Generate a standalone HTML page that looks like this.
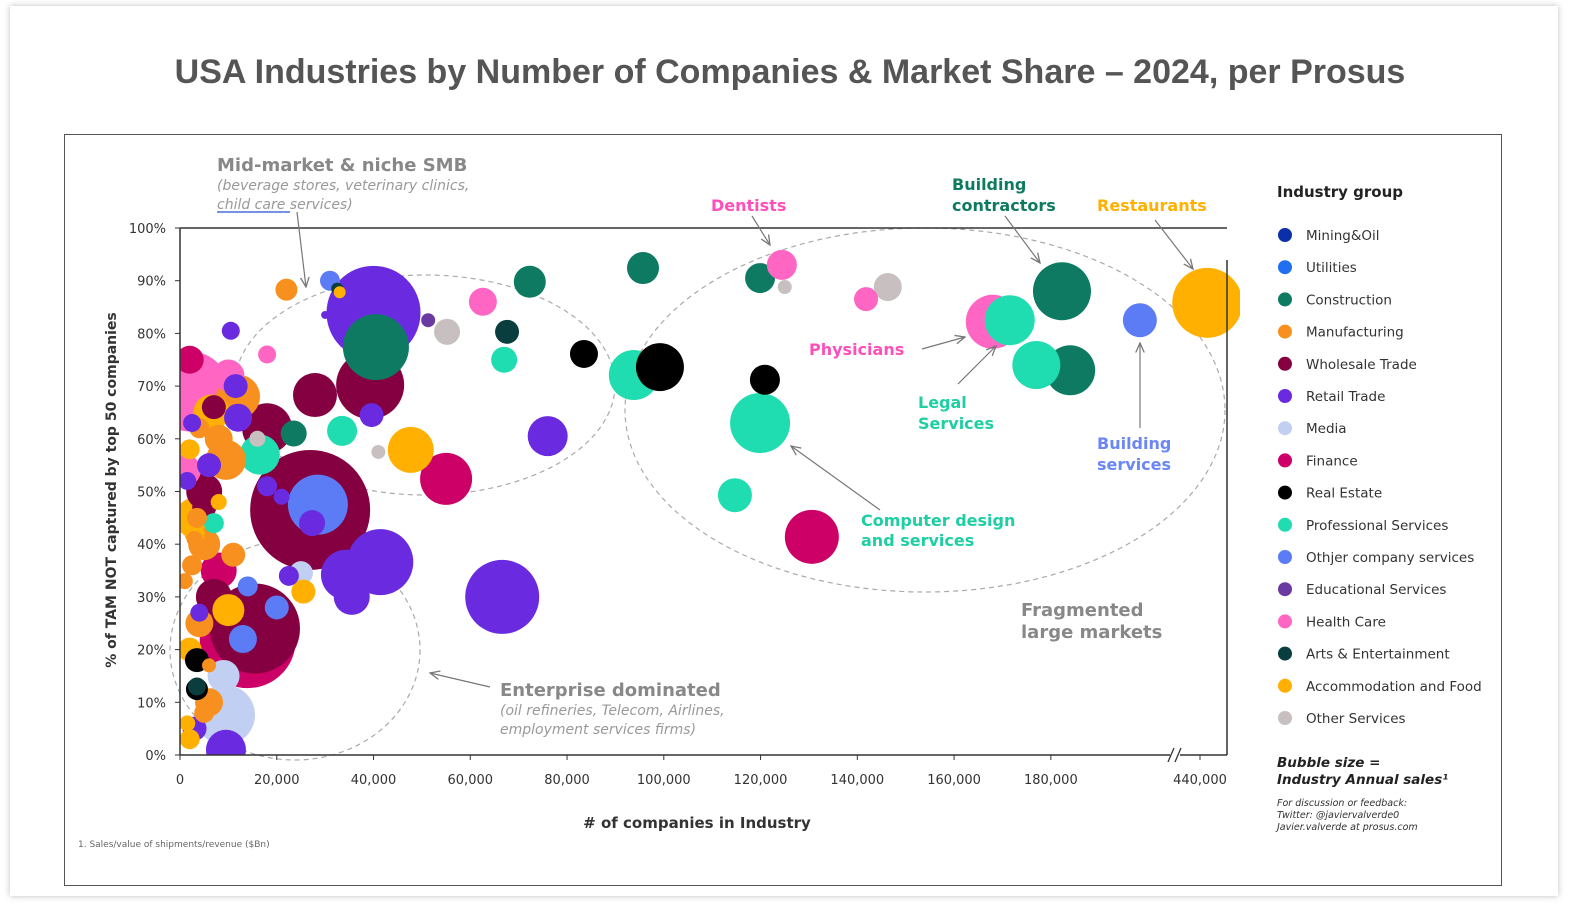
<!DOCTYPE html>
<html><head><meta charset="utf-8">
<style>
html,body{margin:0;padding:0;background:#fff;}
body{width:1574px;height:912px;position:relative;overflow:hidden;font-family:"Liberation Sans","DejaVu Sans",sans-serif;}
#card{position:absolute;left:10px;top:6px;width:1548px;height:890px;background:#fff;box-shadow:0 0 6px rgba(0,0,0,0.25);}
#title{position:absolute;left:0;top:53px;width:1580px;text-align:center;font-size:34px;font-weight:bold;color:#555;}
#frame{position:absolute;left:64px;top:134px;width:1438px;height:752px;border:1.5px solid #555;box-sizing:border-box;}
svg{position:absolute;left:0;top:0;}
</style></head>
<body>
<div id="card"></div>
<div id="title">USA Industries by Number of Companies &amp; Market Share – 2024, per Prosus</div>
<div id="frame"></div>
<svg id="chart" width="1574" height="912" font-family="DejaVu Sans, Liberation Sans, sans-serif">
<defs><clipPath id="plotclip"><rect x="180" y="150" width="1060" height="605"/></clipPath>
<marker id="arr" viewBox="0 0 10 10" refX="9" refY="5" markerWidth="9" markerHeight="9" orient="auto"><path d="M0,1 L9,5 L0,9" fill="none" stroke="#777" stroke-width="1.2"/></marker></defs>
<g id="ellipses" fill="none" stroke="#aaa" stroke-dasharray="5,4" stroke-width="1.2">
<ellipse cx="425" cy="385" rx="190" ry="110"/>
<ellipse cx="925" cy="410" rx="300" ry="182"/>
<ellipse cx="295" cy="650" rx="125" ry="110"/>
</g>
<g id="bubbles" clip-path="url(#plotclip)"></g>
<g id="axes"></g>
<g id="annot"></g>
<g id="legend"></g>
</svg>
<script>
const groups=["Mining&Oil","Utilities","Construction","Manufacturing","Wholesale Trade","Retail Trade","Media","Finance","Real Estate","Professional Services","Othjer company services","Educational Services","Health Care","Arts & Entertainment","Accommodation and Food","Other Services"];
const groupColors=["#0b2fa8","#1f6ff0","#0e7a62","#f7901e","#850040","#6a2be0","#c1cff2","#cc0066","#000000","#1fddb0","#5b7cf5","#6b3aa0","#ff66c4","#0a3d3d","#ffb000","#c8c0c0"];
// companies (thousands)
const companies=[95.7,72.3,119.9,124.4,125,146.3,141.8,168,171.5,182.3,198.4,177,184,441.5,99.2,93.8,83.5,120.9,119.9,114.7,130.6,76,66.6,55,47.7,41,33.5,67.6,67,62.6,55.2,51.3,40,40.5,39.3,39.6,41.4,34.3,35.5,26.9,28.5,27.3,27.9,14,15.5,9.3,9.5,10,2,18,16.5,23.5,16,12,18,21,25,25.5,22.5,3.5,3.5,11.5,10.5,22,31,32.5,33,30,18,6.5,12,9.5,5,3,5,8,7,4,2,9,6,3,2,10,8,5,3,11,6,4,2,7,1,7,14,13,20,3.5,5,8,2.5,1.5,3,2,4,1,6,2.5,3.5,1.5,4];
// % of TAM not captured by top 50
const notCaptured=[92.4,89.8,90.5,93,88.8,88.8,86.5,82.2,82.5,88,82.5,74,73,85.8,73.6,72.1,76.1,71.2,63,49.3,41.4,60.5,30,52.4,57.9,57.5,61.5,80.3,75,86,80.3,82.5,83.9,77.4,70.2,64.5,36.6,34.2,30,46.5,47.5,44,68.3,21.8,24,7.6,1,27.5,69,62,57,61,60,64,51,49,34.5,31,34,12.5,13,70,80.5,88.3,90,88.5,87.8,83.5,76,65,68,56,50,45,40,35,30,25,20,15,10,5,3,72,60,47,42,38,55,62,75,66,54,44,32,22,28,18,8,48,36,52,41,58,27,33,17,63,45,6,39];
// bubble radius units (sales)
const bubbleSize=[16,16,15,15,7,14,12,27,25,29,17,24,25,35,24,25,14,15,30,17,27,20,37,26,23,7,15,12,13,14,13,7,47,33,34,12,33,25,18,60,30,13,22,48,45,30,20,16,40,25,20,13,8,14,10,8,12,12,10,11,9,12,9,11,10,6,6,4,9,18,22,20,18,20,16,18,18,14,12,16,14,12,10,16,14,12,10,12,12,10,14,12,16,10,10,14,12,12,10,8,10,9,8,10,9,8,7,9,10,8];
const groupIdx=[2,2,2,12,15,15,12,12,9,2,10,9,2,14,8,9,8,8,9,9,7,5,5,7,14,15,9,13,9,12,15,11,5,2,4,5,5,5,5,4,10,5,4,7,4,6,5,14,12,4,9,2,15,5,5,5,6,14,5,8,13,5,5,3,10,13,14,5,12,14,3,3,4,14,3,7,4,3,14,6,3,5,14,12,3,4,14,3,5,3,7,4,12,9,10,10,10,8,3,14,3,5,3,14,5,3,3,5,3,14];
const xTickVals=[0,20000,40000,60000,80000,100000,120000,140000,160000,180000,440000];
const xTickLabels=["0","20,000","40,000","60,000","80,000","100,000","120,000","140,000","160,000","180,000","440,000"];
const yTickVals=[0,10,20,30,40,50,60,70,80,90,100];
const yTickLabels=["0%","10%","20%","30%","40%","50%","60%","70%","80%","90%","100%"];
const NS="http://www.w3.org/2000/svg";
function xScale(k){ if(k<=300) return 180+k*4.838; return 1200+(k-440)*4.838; }
function yScale(p){return 755-p*5.27;}
function rScale(s){return s;}
function mk(tag,attrs,parent){const e=document.createElementNS(NS,tag);for(const a in attrs)e.setAttribute(a,attrs[a]);parent.appendChild(e);return e;}
const ga=document.getElementById('axes');
mk('line',{x1:180,y1:228,x2:1227,y2:228,stroke:'#333','stroke-width':1.5},ga);
mk('line',{x1:180,y1:228,x2:180,y2:755,stroke:'#333','stroke-width':1.5},ga);
mk('line',{x1:180,y1:755,x2:1227,y2:755,stroke:'#333','stroke-width':1.5},ga);
mk('line',{x1:1227,y1:260,x2:1227,y2:755,stroke:'#333','stroke-width':1.5},ga);
mk('rect',{x:1170,y:748,width:10,height:14,fill:'#fff'},ga);
mk('line',{x1:1168,y1:762,x2:1174,y2:748,stroke:'#333','stroke-width':1.3},ga);
mk('line',{x1:1175,y1:762,x2:1181,y2:748,stroke:'#333','stroke-width':1.3},ga);
xTickVals.forEach((v,i)=>{
  const x=xScale(v/1000);
  mk('line',{x1:x,y1:755,x2:x,y2:760,stroke:'#333'},ga);
  const t=mk('text',{x:x,y:784,'text-anchor':'middle','font-size':13,fill:'#333'},ga);t.textContent=xTickLabels[i];
  
  
});
yTickVals.forEach((v,i)=>{
  const y=yScale(v);
  mk('line',{x1:175,y1:y,x2:180,y2:y,stroke:'#333'},ga);
  const t=mk('text',{x:166,y:y+5,'text-anchor':'end','font-size':13,fill:'#333'},ga);t.textContent=yTickLabels[i];
  
  
});
let t=mk('text',{x:697,y:828,'text-anchor':'middle','font-size':15,'font-weight':'bold',fill:'#333'},ga);t.textContent='# of companies in Industry';


t=mk('text',{x:0,y:0,'text-anchor':'middle','font-size':14,'font-weight':'bold',fill:'#333',transform:'translate(116,490) rotate(-90)'},ga);t.textContent='% of TAM NOT captured by top 50 companies';


t=mk('text',{x:78,y:847,'font-size':9,fill:'#666'},ga);t.textContent='1. Sales/value of shipments/revenue ($Bn)';


const gn=document.getElementById('annot');
function txt(x,y,s,size,color,bold,italic,name){const e=mk('text',{x:x,y:y,'font-size':size,fill:color,'font-weight':bold?'bold':'normal','font-style':italic?'italic':'normal'},gn);e.textContent=s;return e;}
function arrow(x1,y1,x2,y2){mk('line',{x1:x1,y1:y1,x2:x2,y2:y2,stroke:'#777','stroke-width':1.2,'marker-end':'url(#arr)'},gn);}
txt(217,171,'Mid-market & niche SMB',18,'#888',true,false,'mid-market-label');
txt(217,190,'(beverage stores, veterinary clinics,',14,'#999',false,true,'mid-market-desc');
txt(217,209,'child care services)',14,'#999',false,true,'mid-market-desc-2');
mk('line',{x1:217,y1:212,x2:290,y2:212,stroke:'#4a6fd8','stroke-width':1.5},gn);
arrow(297,212,306,287);
txt(500,696,'Enterprise dominated',18,'#888',true,false,'enterprise-label');
txt(500,715,'(oil refineries, Telecom, Airlines,',14,'#999',false,true,'enterprise-desc');
txt(500,734,'employment services firms)',14,'#999',false,true,'enterprise-desc-2');
arrow(490,687,430,673);
txt(1021,616,'Fragmented',18,'#888',true,false,'fragmented-label');
txt(1021,638,'large markets',18,'#888',true,false,'fragmented-label-2');
txt(711,211,'Dentists',16,'#ff4fb8',true,false,'dentists-label');
arrow(752,216,770,245);
txt(952,190,'Building',16,'#0e7a62',true,false,'building-contractors-label');
txt(952,211,'contractors',16,'#0e7a62',true,false,'building-contractors-label-2');
arrow(1005,216,1040,263);
txt(1097,211,'Restaurants',16,'#ffb000',true,false,'restaurants-label');
arrow(1155,220,1193,269);
txt(809,355,'Physicians',16,'#ff4fb8',true,false,'physicians-label');
arrow(922,349,965,337);
txt(918,408,'Legal',16,'#1fcfa3',true,false,'legal-label');
txt(918,429,'Services',16,'#1fcfa3',true,false,'legal-label-2');
arrow(958,384,996,346);
txt(1097,449,'Building',16,'#6b86f5',true,false,'building-services-label');
txt(1097,470,'services',16,'#6b86f5',true,false,'building-services-label-2');
arrow(1140,428,1140,343);
txt(861,526,'Computer design',16,'#1fcfa3',true,false,'computer-design-label');
txt(861,546,'and services',16,'#1fcfa3',true,false,'computer-design-label-2');
arrow(880,510,791,446);
const gl=document.getElementById('legend');
let lt=mk('text',{x:1277,y:197,'font-size':15,'font-weight':'bold',fill:'#222'},gl);lt.textContent='Industry group';


groups.forEach((g,i)=>{
  const y=236+i*32.2;
  const gg=mk('g',{},gl);
  
  
  mk('circle',{cx:1285,cy:y-1,r:7,fill:groupColors[i]},gg);
  const tx=mk('text',{x:1306,y:y+4,'font-size':13.5,fill:'#333'},gg);tx.textContent=g;
});
lt=mk('text',{x:1277,y:767,'font-size':13.5,'font-weight':'bold','font-style':'italic',fill:'#222'},gl);lt.textContent='Bubble size =';


lt=mk('text',{x:1277,y:784,'font-size':13.5,'font-weight':'bold','font-style':'italic',fill:'#222'},gl);lt.textContent='Industry Annual sales¹';


['For discussion or feedback:','Twitter: @javiervalverde0','Javier.valverde at prosus.com'].forEach((s,i)=>{
  const e=mk('text',{x:1277,y:806+i*12,'font-size':9.5,'font-style':'italic',fill:'#333'},gl);e.textContent=s;
  
  
});
const gb=document.getElementById('bubbles');
const n=Math.min(companies.length,notCaptured.length,bubbleSize.length,groupIdx.length);
const idx=[];for(let i=0;i<n;i++)idx.push(i);
idx.sort((a,b)=>bubbleSize[b]-bubbleSize[a]);
idx.forEach(i=>{
  const gi=groupIdx[i]||0;
  const c=mk('circle',{cx:xScale(companies[i]),cy:yScale(notCaptured[i]),r:rScale(bubbleSize[i]),fill:groupColors[gi]},gb);
  
  
});
</script>
</body></html>
